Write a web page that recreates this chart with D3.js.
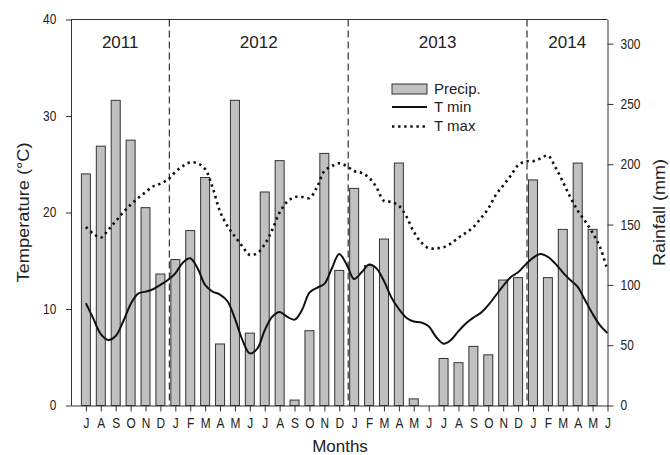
<!DOCTYPE html>
<html>
<head>
  <meta charset="utf-8">
  <title>Temperature and rainfall 2011-2014</title>
  <style>
    body { margin: 0; background: #fff; }
    svg text { font-family: "Liberation Sans", Arial, sans-serif; fill: #222; }
    .axis path, .axis line { stroke: #333; stroke-width: 1; }
    .axis text { font-size: 14px; }
  </style>
</head>
<body>
<script src="https://cdn.jsdelivr.net/npm/d3@7/dist/d3.min.js"></script>
<script>
  // month index 0 = July 2011 ... 35 = June 2014
  var monthLabels = "JASONDJFMAMJJASONDJFMAMJJASONDJFMAMJ".split("");

  // monthly rainfall (mm), Jul 2011 - May 2014
  var rainfall = [192, 215, 253, 220, 164, 109, 121, 145, 189, 51, 253, 60,
    177, 203, 4.5, 62, 209, 112, 180, 116, 138, 201, 5.5, 0,
    39, 35.5, 49, 42, 104, 106, 187, 106, 146, 201, 146];

  // temperature curves read every half month (index 0, 0.5, 1 ... 35)
  var tempMonths = d3.range(0, 35.01, 0.5);
  var tMin = [10.6, 9.0, 7.4, 6.8, 7.2, 8.7, 10.5, 11.6, 11.8, 12.05, 12.5, 13.0,
    13.7, 14.8, 15.25, 14.2, 12.5, 11.8, 11.5, 10.8, 9.0, 6.8, 5.4, 5.9,
    7.8, 9.2, 9.7, 9.2, 8.9, 9.9, 11.7, 12.2, 12.6, 14.2, 15.7, 14.6,
    13.1, 13.8, 14.6, 14.2, 12.9, 11.2, 10.0, 9.1, 8.7, 8.6, 8.2, 7.1,
    6.4, 6.8, 7.7, 8.5, 9.1, 9.6, 10.4, 11.4, 12.4, 13.3, 13.8, 14.6,
    15.3, 15.7, 15.4, 14.7, 13.8, 13.0, 12.3, 10.9, 9.5, 8.3, 7.5];
  var tMax = [18.5, 17.8, 17.4, 18.2, 19.1, 20.0, 20.8, 21.5, 22.1, 22.7, 23.0, 23.4,
    24.2, 24.8, 25.2, 25.1, 24.5, 22.6, 20.1, 18.6, 17.5, 16.5, 15.6, 15.8,
    16.7, 18.2, 20.0, 21.1, 21.6, 21.6, 21.5, 22.6, 24.3, 24.8, 25.1, 24.8,
    24.3, 24.1, 23.6, 22.6, 21.2, 21.1, 20.7, 19.6, 18.0, 16.9, 16.3, 16.3,
    16.4, 16.8, 17.4, 17.9, 18.5, 19.4, 20.4, 21.8, 22.8, 23.8, 24.9, 25.3,
    25.3, 25.6, 25.9, 24.7, 23.2, 21.6, 20.2, 19.1, 17.9, 16.4, 14.0];

  var yearBreaks = [5.6, 17.6, 29.6];
  var years = ["2011", "2012", "2013", "2014"];

  var width = 670, height = 455;
  var plot = { left: 71, right: 607.5, top: 19.5, bottom: 405.5 };

  var svg = d3.select("body").append("svg")
    .attr("width", width)
    .attr("height", height);

  var x = d3.scaleLinear().domain([-1, 35]).range([plot.left, plot.right]);
  var yT = d3.scaleLinear().domain([0, 40]).range([plot.bottom, plot.top]);
  var yR = d3.scaleLinear().domain([0, 320]).range([plot.bottom, plot.top]);

  // bars
  var barW = 9;
  svg.append("g").selectAll("rect")
    .data(rainfall)
    .enter().append("rect")
    .attr("x", function(d, i) { return x(i) - barW / 2; })
    .attr("y", function(d) { return yR(d); })
    .attr("width", barW)
    .attr("height", function(d) { return yR(0) - yR(d); })
    .style("fill", function(d) { return d > 0 ? "#c0c0c0" : "none"; })
    .style("stroke", function(d) { return d > 0 ? "#333" : "none"; })
    .style("stroke-width", 1);

  // year separators
  svg.append("g").selectAll("line")
    .data(yearBreaks)
    .enter().append("line")
    .attr("x1", function(d) { return x(d); })
    .attr("x2", function(d) { return x(d); })
    .attr("y1", plot.top)
    .attr("y2", plot.bottom)
    .attr("stroke", "#333")
    .attr("stroke-width", 1.2)
    .attr("stroke-dasharray", "7,4");

  // year labels centred in each segment
  var edges = [-1].concat(yearBreaks, [35]);
  svg.append("g").selectAll("text")
    .data(years)
    .enter().append("text")
    .attr("x", function(d, i) { return x((edges[i] + edges[i + 1]) / 2); })
    .attr("y", 48)
    .attr("text-anchor", "middle")
    .style("font-size", "17px")
    .text(function(d) { return d; });

  // temperature lines
  var line = function(vals) {
    return d3.line()
      .x(function(d, i) { return x(tempMonths[i]); })
      .y(function(d) { return yT(d); })
      .curve(d3.curveCatmullRom)(vals);
  };
  svg.append("path")
    .attr("d", line(tMin))
    .attr("fill", "none")
    .attr("stroke", "#111")
    .attr("stroke-width", 2);
  svg.append("path")
    .attr("d", line(tMax))
    .attr("fill", "none")
    .attr("stroke", "#111")
    .attr("stroke-width", 2.6)
    .attr("stroke-dasharray", "2.4,3.7");

  // axes
  var xAxis = svg.append("g")
    .attr("class", "axis")
    .attr("transform", "translate(0," + plot.bottom + ")")
    .call(d3.axisBottom(x).tickValues(d3.range(0, 36))
      .tickFormat(function(i) { return monthLabels[i]; })
      .tickSize(6).tickPadding(7).tickSizeOuter(0));
  xAxis.selectAll("text").attr("transform", "scale(0.85,1)");

  var yAxisL = svg.append("g")
    .attr("class", "axis")
    .attr("transform", "translate(" + plot.left + ",0)")
    .call(d3.axisLeft(yT).tickValues([0, 10, 20, 30, 40])
      .tickSize(5).tickPadding(10).tickSizeOuter(0));
  yAxisL.selectAll("text").attr("transform", "translate(-2,0) scale(0.85,1)");

  var yAxisR = svg.append("g")
    .attr("class", "axis")
    .attr("transform", "translate(" + plot.right + ",0)")
    .call(d3.axisRight(yR).tickValues([0, 50, 100, 150, 200, 250, 300])
      .tickSize(6).tickPadding(7).tickSizeOuter(0));
  yAxisR.selectAll("text").attr("transform", "translate(2,0) scale(0.85,1)");

  svg.append("line")
    .attr("x1", plot.left).attr("x2", plot.right)
    .attr("y1", plot.top).attr("y2", plot.top)
    .attr("stroke", "#333");

  // axis titles
  svg.append("text")
    .attr("transform", "translate(29," + ((plot.top + plot.bottom) / 2) + ") rotate(-90)")
    .attr("text-anchor", "middle")
    .attr("textLength", 140)
    .attr("lengthAdjust", "spacingAndGlyphs")
    .style("font-size", "16px")
    .text("Temperature (°C)");

  svg.append("text")
    .attr("transform", "translate(665," + ((plot.top + plot.bottom) / 2) + ") rotate(-90)")
    .attr("text-anchor", "middle")
    .attr("textLength", 107)
    .attr("lengthAdjust", "spacingAndGlyphs")
    .style("font-size", "16px")
    .text("Rainfall (mm)");

  svg.append("text")
    .attr("x", 340)
    .attr("y", 452)
    .attr("text-anchor", "middle")
    .style("font-size", "17px")
    .text("Months");

  // legend
  var legend = svg.append("g").attr("transform", "translate(392,0)");
  legend.append("rect")
    .attr("x", 0).attr("y", 84)
    .attr("width", 35).attr("height", 10)
    .style("fill", "#c0c0c0")
    .style("stroke", "#333");
  legend.append("line")
    .attr("x1", 0).attr("x2", 35)
    .attr("y1", 107).attr("y2", 107)
    .attr("stroke", "#111").attr("stroke-width", 2);
  legend.append("line")
    .attr("x1", 0).attr("x2", 35)
    .attr("y1", 126.5).attr("y2", 126.5)
    .attr("stroke", "#111").attr("stroke-width", 2.6)
    .attr("stroke-dasharray", "2.4,3.7");
  legend.selectAll("text.lab")
    .data(["Precip.", "T min", "T max"])
    .enter().append("text")
    .attr("class", "lab")
    .attr("x", 42)
    .attr("y", function(d, i) { return 93.5 + i * 18.8; })
    .style("font-size", "15px")
    .text(function(d) { return d; });
</script>
</body>
</html>
